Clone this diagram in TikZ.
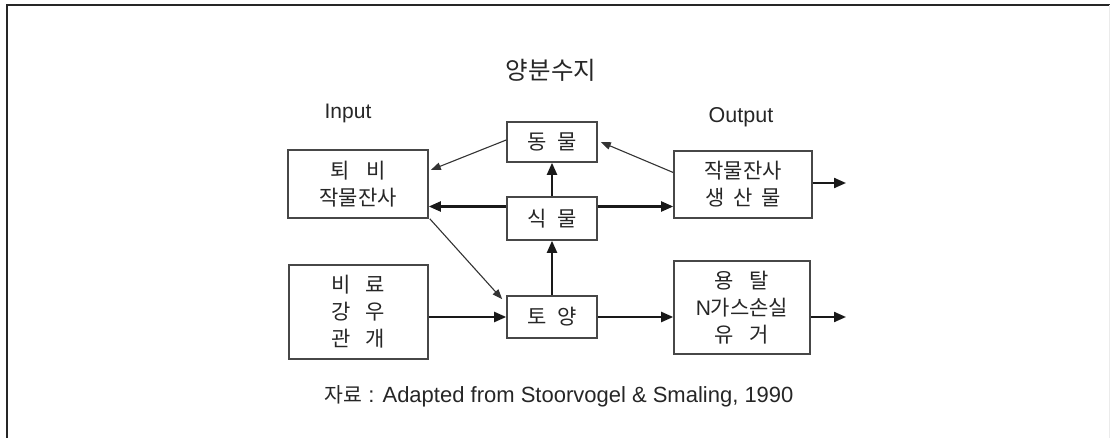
\documentclass[tikz,border=0pt]{standalone}
\usepackage{fontspec}
\setmainfont{Liberation Sans}
\newfontfamily\kr{Noto Sans CJK KR}
\usetikzlibrary{arrows.meta}
\newcommand\kgap[1]{\hspace{#1em}}
\begin{document}
\begin{tikzpicture}[x=1pt,y=-1pt,
  box/.style={draw=black!72,line width=1.6pt,fill=white,inner sep=0pt,
    align=center,text=black!85,font=\kr\fontsize{21}{27}\selectfont},
  thickarrow/.style={line width=2.1pt,draw=black!90,-{Triangle[length=12pt,width=10pt]}},
  thinarrow/.style={line width=1.1pt,draw=black!80,-{Triangle[length=10pt,width=7.5pt]}},
  lbl/.style={text=black!85,inner sep=0pt}]
\useasboundingbox (0,0) rectangle (1110,438);
% frame
\draw[black!85,line width=1.2pt] (7,438) -- (7,5) -- (1110,5);
\draw[black!8,line width=1pt] (1109,5) -- (1109,438);
% title and labels
\node[lbl,font=\kr\fontsize{24.5}{28}\selectfont] (title) at (551,70) {양분수지};
\node[lbl,font=\fontsize{21}{25}\selectfont] (inp) at (348,113) {Input};
\node[lbl,font=\fontsize{21.5}{25}\selectfont] (outp) at (741,117) {Output};
% boxes
\node[box,minimum width=90pt,minimum height=40pt] (dong) at (552,142) {동\kgap{0.5}물};
\node[box,minimum width=90pt,minimum height=43pt] (sik) at (552,218.5) {식\kgap{0.5}물};
\node[box,minimum width=90pt,minimum height=42pt] (toyang) at (552,317) {토\kgap{0.5}양};
\node[box,minimum width=140pt,minimum height=68pt] (toebi) at (358,184) {퇴\kgap{0.8}비\\작물잔사};
\node[box,minimum width=139pt,minimum height=94pt] (biryo) at (358.5,312) {비\kgap{0.7}료\\강\kgap{0.7}우\\관\kgap{0.7}개};
\node[box,minimum width=138pt,minimum height=67pt] (crop) at (743,184.5) {작물잔사\\생\kgap{0.4}산\kgap{0.4}물};
\node[box,minimum width=136pt,minimum height=93pt] (leach) at (742,307.5) {용\kgap{0.75}탈\\\textrm{N}가스손실\\유\kgap{0.75}거};
% helper coordinates
\coordinate (sl) at ([yshift=12pt]sik.west);
\coordinate (sr) at ([yshift=12pt]sik.east);
\coordinate (o1) at (846,183);
\coordinate (lo) at (leach.east |- toyang.east);
\coordinate (o2) at (846,317);
% thick arrows
\draw[thickarrow] (sl) -- (toebi.east |- sl);
\draw[thickarrow] (sr) -- (crop.west |- sr);
\draw[thickarrow] (sik.north) -- (dong.south);
\draw[thickarrow] (toyang.north) -- (sik.south);
\draw[thickarrow] (biryo.east |- toyang.west) -- (toyang.west);
\draw[thickarrow] (toyang.east) -- (leach.west |- toyang.east);
\draw[thickarrow] (crop.east |- o1) -- (o1);
\draw[thickarrow] (lo) -- (o2);
% thin arrows
\draw[thinarrow] ([yshift=2pt]dong.west) -- ([xshift=2pt,yshift=14pt]toebi.east);
\draw[thinarrow] ([yshift=12pt]crop.west) -- ([xshift=3pt]dong.east);
\draw[thinarrow] ([xshift=1pt]toebi.south east) -- ([xshift=-4pt,yshift=-4pt]toyang.north west);
% caption
\node[lbl,font=\fontsize{22}{26}\selectfont] (cap) at (559,396) {{\kr\fontsize{20.5}{26}\selectfont 자료} : Adapted from Stoorvogel \& Smaling, 1990};
\end{tikzpicture}
\end{document}
